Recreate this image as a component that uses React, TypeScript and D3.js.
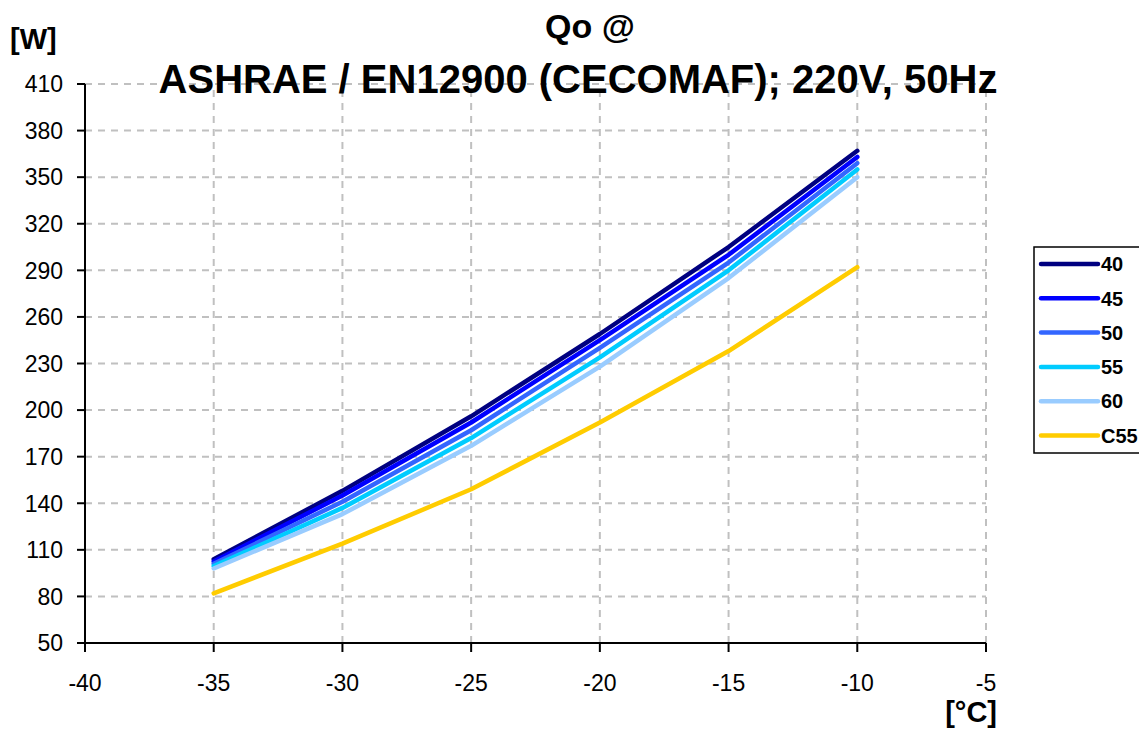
import React from "react";
import * as d3 from "d3";

const temps = [-35, -30, -25, -20, -15, -10];
const s40 = [104, 148, 196, 249, 305, 367];
const s45 = [102.5, 145, 192, 245, 300, 363];
const s50 = [101, 141, 187, 240, 295, 359];
const s55 = [99.5, 137, 182, 234, 290, 355];
const s60 = [98, 133, 177, 228, 285, 350];
const c55 = [82, 114, 149, 192, 238, 292];

const seriesNames = ["40", "45", "50", "55", "60", "C55"];
const seriesColors = ["#000080", "#0000FF", "#3366FF", "#00CCFF", "#99CCFF", "#FFCC00"];
const seriesValues = [s40, s45, s50, s55, s60, c55];

const xTicks = [-40, -35, -30, -25, -20, -15, -10, -5];
const yTicks = [50, 80, 110, 140, 170, 200, 230, 260, 290, 320, 350, 380, 410];

const FONT = "Arial, 'Liberation Sans', Helvetica, sans-serif";

export default function App() {
  const W = 1139, H = 729;
  const x = d3.scaleLinear().domain([-40, -5]).range([85, 986]);
  const y = d3.scaleLinear().domain([50, 410]).range([643, 84]);
  const line = d3.line<[number, number]>().x(d => x(d[0])).y(d => y(d[1]));

  return (
    <svg width={W} height={H} style={{ position: "absolute", left: 0, top: 0, background: "#fff" }} fontFamily={FONT}>
      <rect x={0} y={0} width={W} height={H} fill="#fff" />
      {/* grid */}
      {yTicks.filter(t => t !== 50).map(t => (
        <line key={"gy" + t} x1={x(-40)} x2={x(-5)} y1={y(t)} y2={y(t)} stroke="#C0C0C0" strokeWidth={2} strokeDasharray="7,6" />
      ))}
      {xTicks.filter(t => t !== -40).map(t => (
        <line key={"gx" + t} x1={x(t)} x2={x(t)} y1={y(50)} y2={y(410)} stroke="#C0C0C0" strokeWidth={2} strokeDasharray="7,6" />
      ))}
      {/* axes */}
      <line x1={x(-40)} x2={x(-40)} y1={y(50)} y2={y(410)} stroke="#000" strokeWidth={2} />
      <line x1={x(-40)} x2={x(-5)} y1={y(50)} y2={y(50)} stroke="#000" strokeWidth={2} />
      {yTicks.map(t => (
        <g key={"ty" + t}>
          <line x1={x(-40) - 8} x2={x(-40)} y1={y(t)} y2={y(t)} stroke="#000" strokeWidth={2} />
          <text x={63} y={y(t)} dy="0.36em" textAnchor="end" fontSize={23} fill="#000">{t}</text>
        </g>
      ))}
      {xTicks.map(t => (
        <g key={"tx" + t}>
          <line x1={x(t)} x2={x(t)} y1={y(50)} y2={y(50) + 9} stroke="#000" strokeWidth={2} />
          <text x={x(t)} y={691} textAnchor="middle" fontSize={23} fill="#000">{t}</text>
        </g>
      ))}
      {/* series */}
      {seriesValues.map((vals, i) => (
        <path key={"s" + i} d={line(temps.map((t, j) => [t, vals[j]]) as [number, number][]) || ""}
          fill="none" stroke={seriesColors[i]} strokeWidth={4.5} strokeLinecap="round" strokeLinejoin="round" />
      ))}
      {/* titles */}
      <text x={590} y={38} textAnchor="middle" fontSize={34} fontWeight="bold" fill="#000">Qo @</text>
      <text x={578} y={93} textAnchor="middle" fontSize={40} fontWeight="bold" fill="#000">ASHRAE / EN12900 (CECOMAF); 220V, 50Hz</text>
      <text x={10} y={49} fontSize={29} fontWeight="bold" fill="#000">[W]</text>
      <text x={997} y={722} textAnchor="end" fontSize={29} fontWeight="bold" fill="#000">[°C]</text>
      {/* legend */}
      <rect x={1034} y={247} width={120} height={206} fill="#fff" stroke="#000" strokeWidth={1.5} />
      {seriesNames.map((n, i) => {
        const ly = 264 + i * 34.3;
        return (
          <g key={"lg" + n}>
            <line x1={1041} x2={1098} y1={ly} y2={ly} stroke={seriesColors[i]} strokeWidth={4.5} strokeLinecap="round" />
            <text x={1101} y={ly} dy="0.36em" fontSize={20} fontWeight="bold" fill="#000">{n}</text>
          </g>
        );
      })}
    </svg>
  );
}
